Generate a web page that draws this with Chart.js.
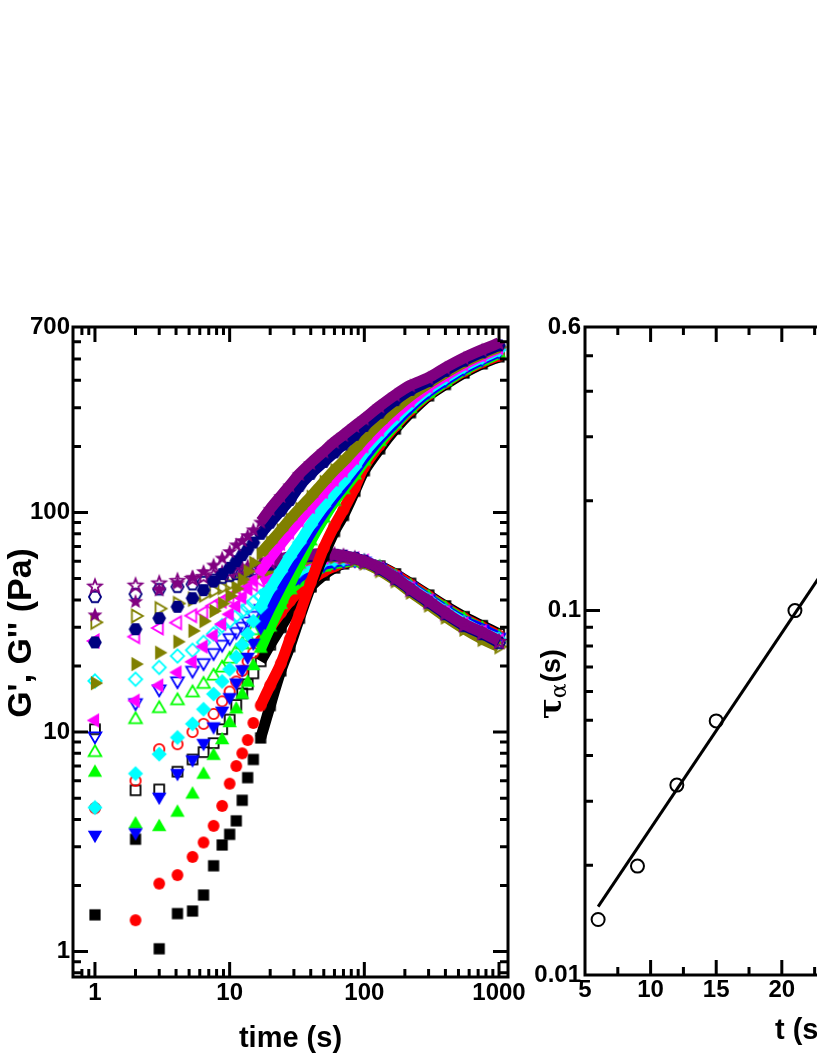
<!DOCTYPE html>
<html>
<head>
<meta charset="utf-8">
<script src="https://cdn.jsdelivr.net/npm/chart.js@4.4.0/dist/chart.umd.min.js"></script>
<style>
  html, body { margin: 0; padding: 0; background: #fff; overflow: hidden; }
  #wrap { position: relative; width: 817px; height: 1058px; overflow: hidden; }
  #left { position: absolute; left: 0; top: 0; width: 530px; height: 1058px; }
  #right { position: absolute; left: 520px; top: 0; width: 520px; height: 1058px; }
</style>
</head>
<body>
<div id="wrap">
  <canvas id="left" width="530" height="1058"></canvas>
  <canvas id="right" width="520" height="1058"></canvas>
</div>
<script>
// ---- left panel data: G' (filled) and G'' (open) vs time ----
const time = [1, 2, 3, 4.1, 5.3, 6.4, 7.6, 8.8, 10, 11.2, 12.4, 13.6, 15, 17, 20, 24, 28, 33, 40, 50, 60, 70, 85, 100, 130, 170, 220, 300, 400, 550, 750, 1000];

const blackG1   = [1.47, 3.25, 1.03, 1.49, 1.53, 1.81, 2.46, 3.06, 3.42, 3.94, 4.89, 6.2, 7.5, 9.4, 13.2, 19, 24.5, 33, 46, 64, 82, 97, 125, 155, 195, 240, 285, 340, 383, 432, 476, 512];
const redG1     = [null, 1.39, 2.04, 2.23, 2.70, 3.14, 3.74, 4.61, 5.82, 7.0, 8.0, 9.2, 11, 13.2, 16.3, 20.5, 26.5, 34.5, 48, 69, 87, 103, 130, 162, 203, 248, 292, 345, 390, 440, 484, 518];
const greenG1   = [6.54, 3.80, 3.70, 4.3, 5.2, 6.4, 7.8, 9.2, 11.0, 12.7, 14.8, 16.8, 20, 24, 30, 38, 47, 58, 74, 94, 112, 127, 148, 171, 210, 252, 297, 348, 393, 445, 490, 530];
const blueG1    = [3.40, 3.49, 5.07, 6.5, 7.5, 8.9, 10.6, 12.5, 14.4, 16.8, 19.3, 22, 25.5, 30, 37, 46, 55, 66, 81, 100, 117, 132, 155, 178, 217, 258, 302, 355, 400, 452, 498, 540];
const cyanG1    = [4.53, 6.47, 7.93, 9.45, 10.9, 12.7, 14.9, 17, 19.3, 22, 25, 28, 32, 37, 45, 54, 63, 73, 88, 107, 124, 139, 162, 188, 226, 268, 312, 365, 410, 462, 508, 550];
const magentaG1 = [11.3, 13.9, 16.3, 18.7, 20.9, 24.5, 27.5, 31, 34.4, 37.5, 41, 45, 49, 54, 62, 72, 81, 92, 106, 124, 141, 155, 177, 200, 238, 280, 322, 375, 420, 472, 518, 560];
const oliveG1   = [16.7, 20.4, 23, 25.8, 28.9, 32, 35.6, 38.5, 41.7, 45, 49.5, 54, 59, 65, 73, 83, 93, 104, 118, 138, 156, 171, 194, 217, 256, 298, 340, 387, 432, 482, 527, 567];
const navyG1    = [25.6, 29.4, 33, 37.2, 40.7, 44.3, 48.5, 52.4, 56, 60, 64, 68, 73, 80, 90, 102, 114, 132, 150, 170, 188, 204, 226, 248, 285, 325, 362, 397, 442, 492, 537, 577];
const purpleG1  = [34.4, 39.6, 44.7, 48, 51, 54.2, 58, 62.4, 66.8, 71.7, 75, 79, 84, 91, 104, 119, 133, 150, 168, 190, 210, 226, 248, 268, 305, 344, 380, 412, 457, 507, 552, 592];

const blackG2   = [10.3, 5.43, 5.48, 6.6, 7.5, 8.1, 8.9, 10.3, 11.4, 13.3, 15, 16.5, 18.5, 21, 25, 30, 35, 40, 46, 52, 56, 58.5, 60, 59, 57, 52.5, 47.5, 42, 37.5, 33.5, 30.5, 28];
const redG2     = [4.5, 6.0, 8.36, 8.8, 10, 10.9, 12.1, 13.8, 15.3, 17, 19, 21, 23, 26, 30, 35, 39.5, 44, 49, 54, 57, 59, 60, 59, 56.5, 52, 47, 41.5, 37, 33, 30, 27.5];
const greenG2   = [8.07, 11.4, 12.8, 13.9, 15.1, 16.5, 18, 19.6, 21.5, 23.3, 25, 27, 29, 32, 36, 40.5, 44.5, 48.5, 52.5, 56.5, 58.5, 59.5, 60, 59, 56, 51, 46, 41, 36.5, 32.5, 29.5, 27];
const blueG2    = [9.6, 13.6, 15.7, 17.1, 19.1, 20.7, 23, 25.1, 26.9, 28.7, 30.3, 32, 34, 36.5, 40, 44, 47.5, 51, 54.5, 58, 59.5, 60.5, 61, 60, 56, 51, 46, 40.5, 36, 32, 29.5, 27];
const cyanG2    = [17.1, 17.4, 19.7, 22.2, 23.6, 25.6, 28, 30.5, 32, 33.9, 35.5, 37, 39, 41.5, 45, 48.5, 51.5, 54.5, 57.5, 60, 61, 61.5, 61.5, 60, 56, 50.5, 45.5, 40, 35.5, 31.5, 28.5, 26.5];
const magentaG2 = [26, 27.2, 29.8, 31.5, 33.9, 35, 37.6, 39.5, 41, 42.5, 44, 45.5, 47, 49, 51.5, 54.5, 57, 59, 61, 62.5, 63, 62.5, 61.5, 60, 55.5, 50, 45, 39.5, 35, 31, 28.5, 26];
const oliveG2   = [31.6, 33.8, 36.5, 38.5, 40.3, 42, 44, 45.5, 47, 48.5, 49.5, 50.5, 52, 53.5, 55.5, 57.5, 59, 60.5, 62, 63, 63, 62.5, 61, 59, 54.5, 49, 43.5, 38, 33.5, 29.5, 26.5, 24.5];
const navyG2    = [41.3, 42.5, 44.7, 45.9, 47.1, 48.2, 49.4, 50.5, 51.5, 52.5, 53.3, 54, 55, 56.5, 58, 59.5, 61, 62, 63.5, 64, 64, 63.5, 62, 60, 55.5, 50, 44.5, 39, 34.5, 30.5, 28, 25.5];
const purpleG2  = [46.4, 46.9, 48, 49.2, 50.3, 51.3, 52.3, 53.3, 54.2, 55, 55.8, 56.5, 57.3, 58.5, 60, 61.5, 63, 64, 64.5, 65, 64.5, 63.5, 62, 60, 56, 50.5, 45, 39.5, 35, 31, 28.5, 26];

const leftXLabels = [1, 10, 100, 1000];
const leftYLabels = [1, 10, 100, 700];

// ---- right panel data: relaxation time vs t ----
const tauT = [6, 9, 12, 15, 21];
const tauVal = [0.0142, 0.0199, 0.0332, 0.0498, 0.100];
const fitT = [6, 27];
const fitVal = [0.0154, 0.206];

const rightXLabels = [5, 10, 15, 20, 25, 30, 35];
const rightYLabels = [0.01, 0.1, 0.6];

Chart.defaults.font.family = "'Liberation Sans', Arial, sans-serif";
Chart.defaults.color = '#000';

const tickFont = { size: 24, weight: 'bold', lineHeight: 1.2 };
const titleFont = { size: 29, weight: 'bold', lineHeight: 1.2 };

// marker glyphs
function makeMarker(shape, color, filled) {
  const c = document.createElement('canvas');
  c.width = 20; c.height = 20;
  const g = c.getContext('2d');
  g.translate(10, 10);
  const k = filled ? 1 : 0.88;
  g.beginPath();
  if (shape === 'square') {
    g.rect(-5.6 * k, -5.6 * k, 11.2 * k, 11.2 * k);
  } else if (shape === 'circle') {
    g.arc(0, 0, 5.9 * k, 0, Math.PI * 2);
  } else if (shape === 'star') {
    for (let i = 0; i < 10; i++) {
      const rr = (i % 2 ? 3.4 : 8) * k;
      const a = -Math.PI / 2 + i * Math.PI / 5;
      g.lineTo(rr * Math.cos(a), rr * Math.sin(a) + 0.9);
    }
    g.closePath();
  } else {
    const sides = shape === 'hex' ? 6 : shape === 'diamond' ? 4 : 3;
    const rot = { up: -90, down: 90, left: 180, right: 0, diamond: -90, hex: 0 }[shape];
    const r = (shape === 'hex' ? 6.9 : shape === 'diamond' ? 7.6 : 8.3) * k;
    for (let i = 0; i < sides; i++) {
      const a = (rot + i * 360 / sides) * Math.PI / 180;
      g.lineTo(r * Math.cos(a), r * Math.sin(a));
    }
    g.closePath();
  }
  if (filled) { g.fillStyle = color; g.fill(); }
  else { g.lineWidth = 1.8; g.strokeStyle = color; g.stroke(); }
  return c;
}

const series = [
  { color: '#000000', shape: 'square',  g1: blackG1,   g2: blackG2 },
  { color: '#ff0000', shape: 'circle',  g1: redG1,     g2: redG2 },
  { color: '#00ff00', shape: 'up',      g1: greenG1,   g2: greenG2 },
  { color: '#0000ff', shape: 'down',    g1: blueG1,    g2: blueG2 },
  { color: '#00ffff', shape: 'diamond', g1: cyanG1,    g2: cyanG2 },
  { color: '#ff00ff', shape: 'left',    g1: magentaG1, g2: magentaG2 },
  { color: '#808000', shape: 'right',   g1: oliveG1,   g2: oliveG2 },
  { color: '#000080', shape: 'hex',     g1: navyG1,    g2: navyG2 },
  { color: '#800080', shape: 'star',    g1: purpleG1,  g2: purpleG2 }
];

// G'' sets go underneath, G' sets on top; later entries are drawn above earlier ones
const leftSets = [];
[false, true].forEach(filled => {
  series.forEach(s => {
    const vals = filled ? s.g1 : s.g2;
    leftSets.push({
      label: s.shape + (filled ? " G'" : " G''"),
      data: time.map((t, i) => ({ x: t, y: vals[i] })),
      showLine: true,
      borderColor: s.color,
      borderWidth: 11,
      borderJoinStyle: 'round',
      tension: 0.3,
      segment: { borderColor: c => c.p0.parsed.x >= 17 ? s.color : 'rgba(0,0,0,0)' },
      pointStyle: makeMarker(s.shape, s.color, filled),
      pointRadius: 6,
      order: -leftSets.length
    });
  });
});

function logTicks(min, max) {
  const out = [];
  for (let e = -3; e <= 3; e++) {
    for (let m = 1; m < 10; m++) {
      const v = +(m * Math.pow(10, e)).toPrecision(3);
      if (v >= min && v <= max) out.push({ value: v });
    }
  }
  return out;
}

// inward ticks on all four sides + thick frame
const frameTicks = {
  id: 'frameTicks',
  afterDraw(chart, args, opts) {
    const { ctx, chartArea: a, scales } = chart;
    ctx.save();
    ctx.strokeStyle = '#000';
    ctx.lineWidth = 3;
    ['x', 'y'].forEach(id => {
      const s = scales[id];
      s.ticks.forEach(t => {
        const p = s.getPixelForValue(t.value);
        const len = opts[id].includes(t.value) ? 15 : 8;
        ctx.beginPath();
        if (id === 'x') {
          if (p < a.left + 2 || p > a.right - 2) return;
          ctx.moveTo(p, a.bottom); ctx.lineTo(p, a.bottom - len);
          ctx.moveTo(p, a.top); ctx.lineTo(p, a.top + len);
        } else {
          if (p < a.top + 2 || p > a.bottom - 2) return;
          ctx.moveTo(a.left, p); ctx.lineTo(a.left + len, p);
          ctx.moveTo(a.right, p); ctx.lineTo(a.right - len, p);
        }
        ctx.stroke();
      });
    });
    ctx.strokeRect(a.left, a.top, a.right - a.left, a.bottom - a.top);
    ctx.restore();
  }
};

// rotated y titles drawn as canvas text
const sideTitle = {
  id: 'sideTitle',
  afterDraw(chart, args, opts) {
    const ctx = chart.ctx;
    ctx.save();
    ctx.translate(opts.x, opts.y);
    ctx.rotate(-Math.PI / 2);
    ctx.fillStyle = '#000';
    ctx.textBaseline = 'middle';
    ctx.textAlign = opts.parts.length === 1 ? 'center' : 'left';
    let x = 0;
    opts.parts.forEach(p => {
      ctx.font = p.font;
      ctx.fillText(p.text, x, p.dy || 0);
      x += ctx.measureText(p.text).width + (p.gap || 0);
    });
    ctx.restore();
  }
};

new Chart(document.getElementById('left'), {
  type: 'scatter',
  data: { datasets: leftSets },
  options: {
    responsive: false,
    animation: false,
    layout: { padding: { top: 327, right: 22, left: 0, bottom: 0 } },
    plugins: {
      legend: { display: false },
      tooltip: { enabled: false },
      frameTicks: { x: [1, 10, 100, 1000], y: [1, 10, 100] },
      sideTitle: { x: 22, y: 633, parts: [{ text: "G', G'' (Pa)", font: "bold 34px 'Liberation Sans', Arial, sans-serif" }] }
    },
    scales: {
      x: {
        type: 'logarithmic', min: 0.687, max: 1166,
        afterBuildTicks: s => { s.ticks = logTicks(0.687, 1166); },
        afterFit: s => { s.height = 81; },
        grid: { display: false, drawTicks: false },
        border: { display: false },
        ticks: { autoSkip: false, maxRotation: 0, padding: 2, font: tickFont,
                 callback: v => leftXLabels.includes(v) ? String(v) : '' },
        title: { display: true, text: 'time (s)', font: titleFont, padding: { top: 0, bottom: 2 } }
      },
      y: {
        type: 'logarithmic', min: 0.766, max: 700,
        afterBuildTicks: s => { s.ticks = logTicks(0.766, 700); },
        afterFit: s => { s.width = 73; },
        grid: { display: false, drawTicks: false },
        border: { display: false },
        ticks: { autoSkip: false, padding: 3, font: tickFont,
                 callback: v => leftYLabels.includes(v) ? String(v) : '' }
      }
    }
  },
  plugins: [frameTicks, sideTitle]
});

new Chart(document.getElementById('right'), {
  type: 'scatter',
  data: {
    datasets: [
      {
        label: 'tau',
        data: tauT.map((t, i) => ({ x: t, y: tauVal[i] })),
        pointStyle: 'circle',
        pointRadius: 6.5,
        pointBorderWidth: 2,
        pointBorderColor: '#000',
        pointBackgroundColor: 'rgba(0,0,0,0)',
        showLine: false
      },
      {
        label: 'fit',
        data: fitT.map((t, i) => ({ x: t, y: fitVal[i] })),
        showLine: true,
        borderColor: '#000',
        borderWidth: 3,
        pointRadius: 0
      }
    ]
  },
  options: {
    responsive: false,
    animation: false,
    layout: { padding: { top: 327, right: 22, left: 0, bottom: 0 } },
    plugins: {
      legend: { display: false },
      tooltip: { enabled: false },
      frameTicks: { x: rightXLabels, y: [0.01, 0.1] },
      sideTitle: { x: 33, y: 719, parts: [
        { text: 'τ', font: "bold 31px 'DejaVu Serif', serif" },
        { text: 'α', font: "22px 'DejaVu Serif', serif", dy: 7, gap: 1 },
        { text: '(s)', font: "bold 27px 'Liberation Sans', Arial, sans-serif" }
      ] }
    },
    scales: {
      x: {
        type: 'linear', min: 5, max: 38,
        afterBuildTicks: s => {
          const out = [];
          for (let v = 5; v <= 38; v += 2.5) out.push({ value: v });
          s.ticks = out;
        },
        afterFit: s => { s.height = 83; },
        grid: { display: false, drawTicks: false },
        border: { display: false },
        ticks: { autoSkip: false, maxRotation: 0, padding: 1, font: tickFont,
                 callback: v => rightXLabels.includes(v) ? String(v) : '' },
        title: { display: true, text: 't (s)', font: titleFont, padding: { top: 0, bottom: 10 } }
      },
      y: {
        type: 'logarithmic', min: 0.01, max: 0.6,
        afterBuildTicks: s => { s.ticks = logTicks(0.01, 0.6); },
        afterFit: s => { s.width = 65; },
        grid: { display: false, drawTicks: false },
        border: { display: false },
        ticks: { autoSkip: false, padding: 4, font: tickFont,
                 callback: v => rightYLabels.includes(v) ? String(v) : '' }
      }
    }
  },
  plugins: [frameTicks, sideTitle]
});
</script>
</body>
</html>
